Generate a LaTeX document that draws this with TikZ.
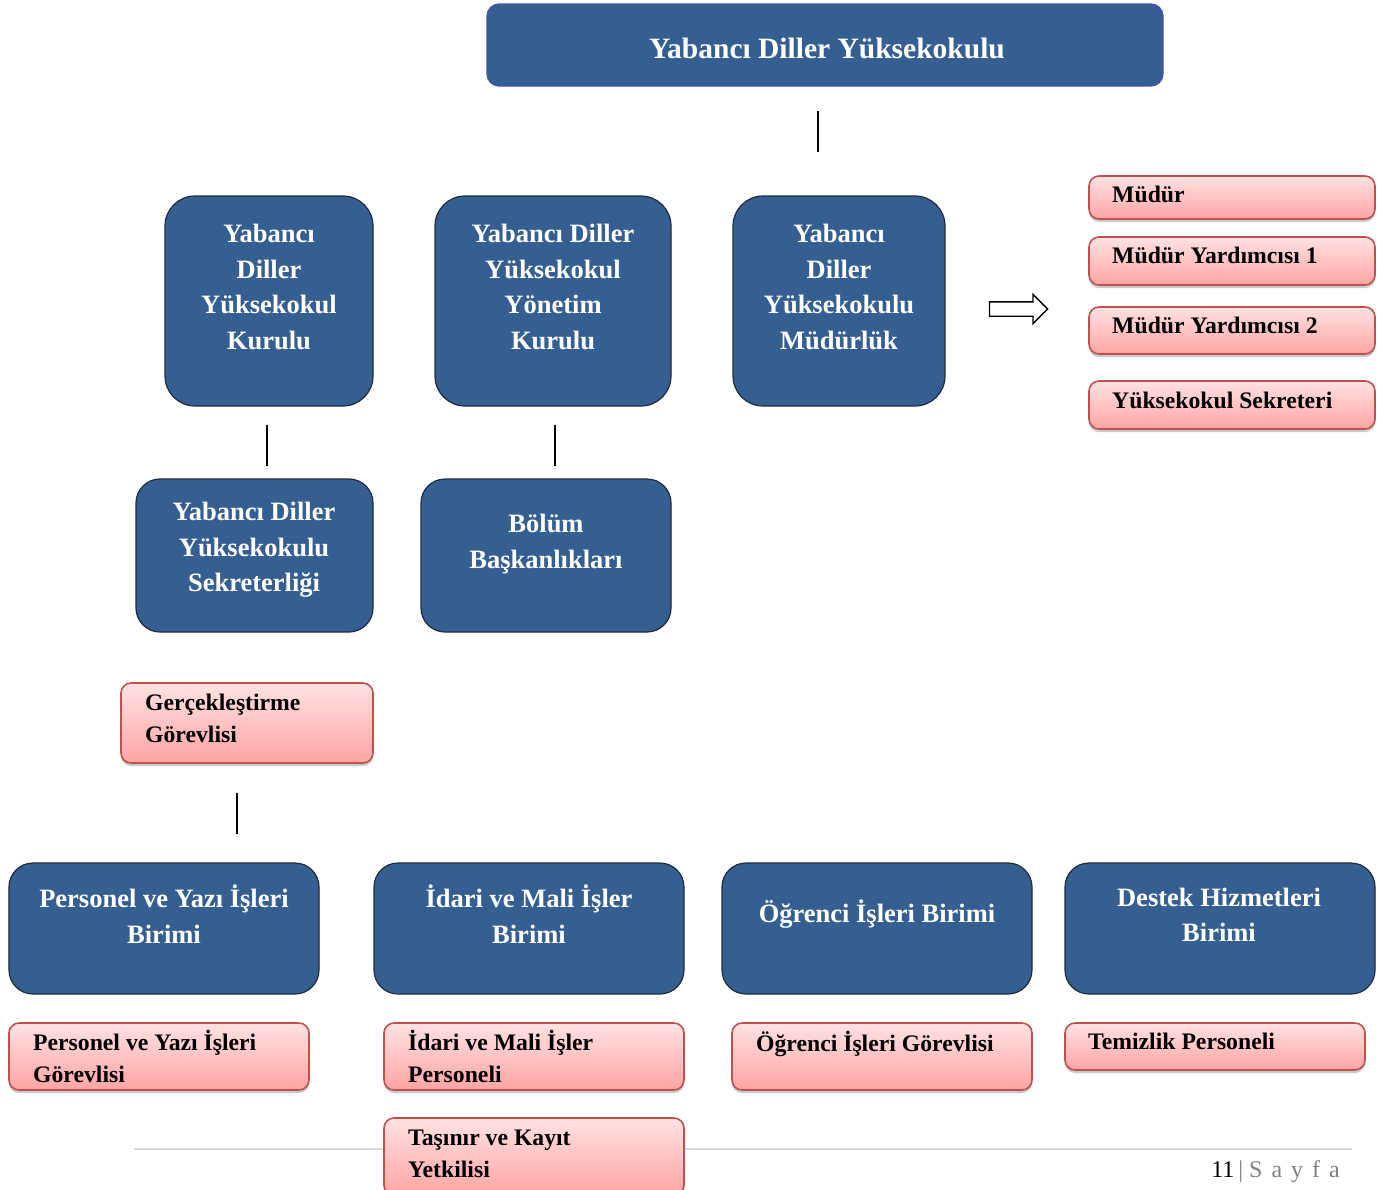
\documentclass[tikz,border=0pt]{standalone}
\usepackage{fontspec}
\setmainfont{Liberation Serif}
\usepackage{tikz}
\usetikzlibrary{positioning, shapes.arrows, shadows}

\definecolor{kutumavi}{HTML}{365F91}
\definecolor{kutukenar}{HTML}{1E2B40}
\definecolor{ustkenar}{HTML}{4A4FB5}
\definecolor{pembeust}{HTML}{FFE2E2}
\definecolor{pembealt}{HTML}{FFA4A4}
\definecolor{pembekenar}{HTML}{C0504D}
\definecolor{altcizgi}{HTML}{D9D9D9}
\definecolor{sayfagri}{HTML}{808080}

\begin{document}
\begin{tikzpicture}[x=1bp, y=-1bp,
  mavi/.style={draw=kutukenar, line width=1.2bp, fill=kutumavi, rounded corners=24bp, inner sep=0pt},
  mavi yazi/.style={text=white, font=\fontsize{26.5bp}{35.5bp}\selectfont\bfseries, align=center, inner sep=0pt},
  pembe/.style={draw=pembekenar, line width=1.6bp, top color=pembeust, bottom color=pembealt, rounded corners=10bp, inner sep=0pt,
    drop shadow={shadow xshift=0bp, shadow yshift=-3bp, opacity=0.35, fill=black!60}},
  pembe yazi/.style={font=\fontsize{23.7bp}{32.5bp}\selectfont\bfseries, text width=260bp, align=flush left, anchor=base west, inner sep=0pt},
  cizgi/.style={line width=1.8bp, black}]
\useasboundingbox (0,0) rectangle (1383,1189);
\clip (0,0) rectangle (1383,1189);

\coordinate (alt sol) at (134,1149);
\coordinate (alt sag) at (1352,1149);
\draw[altcizgi, line width=1.5bp] (alt sol) -- (alt sag);
\node[anchor=base east, inner sep=0pt, font=\fontsize{24bp}{28bp}\selectfont] (sayfa) at (1340,1177)
  {11\hspace{4bp}\textcolor{sayfagri}{|\hspace{6bp}S\hspace{9bp}a\hspace{9bp}y\hspace{9bp}f\hspace{9bp}a}};

\node[mavi, draw=ustkenar, rounded corners=12bp, minimum width=676bp, minimum height=82bp] (yuksekokul) at (825,45) {};
\node[mavi yazi, font=\fontsize{29.5bp}{34bp}\selectfont\bfseries] (yuksekokul yazi) at (827,48) {Yabancı Diller Yüksekokulu};

\node[mavi, rounded corners=30bp, minimum width=208bp, minimum height=210bp] (kurul) at (269,301) {};
\node[mavi, rounded corners=30bp, minimum width=236bp, minimum height=210bp] (yonetim) at (553,301) {};
\node[mavi, rounded corners=30bp, minimum width=212bp, minimum height=210bp] (mudurluk) at (839,301) {};
\node[mavi yazi] (kurul yazi) at (269,287) {Yabancı\\Diller\\Yüksekokul\\Kurulu};
\node[mavi yazi] (yonetim yazi) at (553,287) {Yabancı Diller\\Yüksekokul\\Yönetim\\Kurulu};
\node[mavi yazi] (mudurluk yazi) at (839,287) {Yabancı\\Diller\\Yüksekokulu\\Müdürlük};

\node[single arrow, draw, fill=white, line width=1.3bp, inner sep=6.5bp, minimum height=58bp, minimum width=28bp,
  single arrow head extend=7.5bp] (ok) at (1015,309) {};

\node[pembe, minimum width=286bp, minimum height=43bp] (mudur) at (1232,197.5) {};
\node[pembe, minimum width=286bp, minimum height=48bp] (yardimci 1) at (1232,261) {};
\node[pembe, minimum width=286bp, minimum height=47bp] (yardimci 2) at (1232,330.5) {};
\node[pembe, minimum width=286bp, minimum height=48bp] (sekreter) at (1232,405) {};
\node[pembe yazi] (mudur yazi) at (1112,202) {Müdür};
\node[pembe yazi] (yardimci 1 yazi) at (1112,263) {Müdür Yardımcısı 1};
\node[pembe yazi] (yardimci 2 yazi) at (1112,333) {Müdür Yardımcısı 2};
\node[pembe yazi] (sekreter yazi) at (1112,408) {Yüksekokul Sekreteri};

\node[mavi, minimum width=237bp, minimum height=153bp] (sekreterlik) at (254.5,555.5) {};
\node[mavi, minimum width=250bp, minimum height=153bp] (bolum) at (546,555.5) {};
\node[mavi yazi] (sekreterlik yazi) at (254,550) {Yabancı Diller\\Yüksekokulu\\Sekreterliği};
\node[mavi yazi] (bolum yazi) at (546,544) {Bölüm\\Başkanlıkları};

\node[pembe, minimum width=252bp, minimum height=80bp] (gerceklestirme) at (247,723) {};
\node[pembe yazi] (gerceklestirme yazi) at (145,710) {Gerçekleştirme\\Görevlisi};

\node[mavi, minimum width=310bp, minimum height=131bp] (personel) at (164,928.5) {};
\node[mavi, minimum width=310bp, minimum height=131bp] (idari) at (529,928.5) {};
\node[mavi, minimum width=310bp, minimum height=131bp] (ogrenci) at (877,928.5) {};
\node[mavi, minimum width=310bp, minimum height=131bp] (destek) at (1220,928.5) {};
\node[mavi yazi] (personel yazi) at (164,914) {Personel ve Yazı İşleri\\Birimi};
\node[mavi yazi] (idari yazi) at (529,914) {İdari ve Mali İşler\\Birimi};
\node[mavi yazi] (ogrenci yazi) at (877,914) {Öğrenci İşleri Birimi};
\node[mavi yazi] (destek yazi) at (1219,915) {Destek Hizmetleri\\Birimi};

\node[pembe, minimum width=300bp, minimum height=67bp] (personel gorevli) at (159,1056.5) {};
\node[pembe, minimum width=300bp, minimum height=67bp] (idari personel) at (534,1056.5) {};
\node[pembe, minimum width=300bp, minimum height=67bp] (ogrenci gorevli) at (882,1056.5) {};
\node[pembe, minimum width=300bp, minimum height=47bp] (temizlik) at (1215,1046.5) {};
\node[pembe, minimum width=300bp, minimum height=77bp] (tasinir) at (534,1156.5) {};
\node[pembe yazi] (personel gorevli yazi) at (33,1050) {Personel ve Yazı İşleri\\Görevlisi};
\node[pembe yazi] (idari personel yazi) at (408,1050) {İdari ve Mali İşler\\Personeli};
\node[pembe yazi] (ogrenci gorevli yazi) at (756,1051) {Öğrenci İşleri Görevlisi};
\node[pembe yazi] (temizlik yazi) at (1088,1049) {Temizlik Personeli};
\node[pembe yazi] (tasinir yazi) at (408,1145) {Taşınır ve Kayıt\\Yetkilisi};

\coordinate (ust cizgi a) at (818,111);
\coordinate (ust cizgi b) at (818,152);
\coordinate (kurul cizgi a) at (267,425);
\coordinate (kurul cizgi b) at (267,466);
\coordinate (yonetim cizgi a) at (555,425);
\coordinate (yonetim cizgi b) at (555,466);
\coordinate (gorevli cizgi a) at (237,793);
\coordinate (gorevli cizgi b) at (237,834);
\draw[cizgi] (ust cizgi a) -- (ust cizgi b);
\draw[cizgi] (kurul cizgi a) -- (kurul cizgi b);
\draw[cizgi] (yonetim cizgi a) -- (yonetim cizgi b);
\draw[cizgi] (gorevli cizgi a) -- (gorevli cizgi b);

\end{tikzpicture}
\end{document}
